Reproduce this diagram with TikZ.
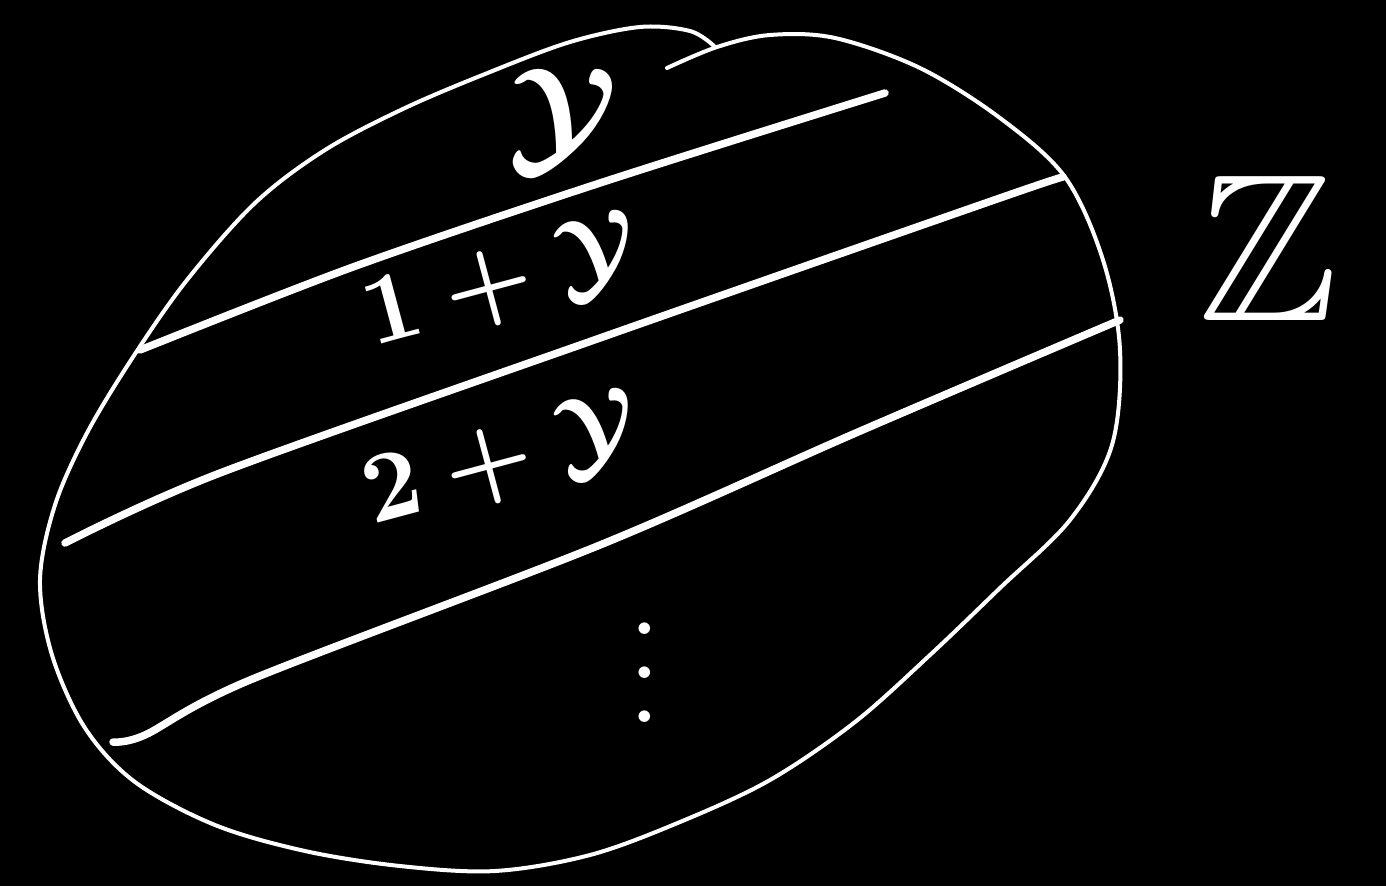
\documentclass[tikz,border=0pt]{standalone}
\usepackage{amsmath,amssymb}
\begin{document}
\begin{tikzpicture}[x=1pt,y=-1pt,
  ovalline/.style={white,line width=4pt,line cap=round,line join=round},
  bandline/.style={white,line width=7.5pt,line cap=round,line join=round},
  lbl/.style={text=white,inner sep=0pt,outer sep=0pt}]
\fill[black] (0,0) rectangle (1386,886);
\useasboundingbox (0,0) rectangle (1386,886);
% oval outline
\draw[ovalline] plot[smooth,tension=0.55] coordinates {
 (667,68) (717,47) (770,35) (835,38) (920,68) (1000,118) (1065,177) (1103,260)
 (1120,350) (1112,445) (1070,520) (1000,588) (930,655) (855,722) (770,780)
 (680,822) (590,855) (495,871) (400,866) (305,851) (215,825) (135,782)
 (85,728) (52,655) (40,580) (55,505) (87,433) (133,357) (187,280) (255,203)
 (325,150) (405,108) (490,72) (570,42) (640,27) (690,31) (714,46)};
% band lines
\draw[bandline] plot[smooth] coordinates {(140,350) (353,267) (600,183) (885,93)};
\draw[bandline] plot[smooth] coordinates {(65,543) (220,473) (600,338) (1000,198) (1063,177)};
\draw[bandline] plot[smooth,tension=0.5] coordinates {(113,742) (145,735) (250,680) (600,545) (858,432) (1120,320)};
% labels
\node[lbl,scale=13] (y0) at (563,120) {$\boldsymbol{\mathcal{Y}}$};
\node[lbl,scale=10,rotate=15] (y1) at (502,283) {$\boldsymbol{1+\mathcal{Y}}$};
\node[lbl,scale=10,rotate=15] (y2) at (502,461) {$\boldsymbol{2+\mathcal{Y}}$};
\node[lbl,scale=11] (dots) at (645,640) {$\vdots$};
\node[lbl,scale=21,anchor=west] (zz) at (1198,248) {$\mathbb{Z}$};
\end{tikzpicture}
\end{document}
